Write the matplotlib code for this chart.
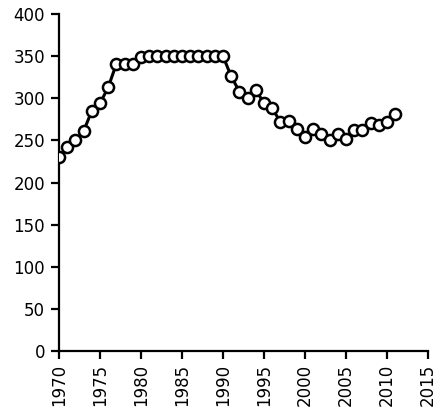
import matplotlib
matplotlib.use("Agg")
import matplotlib.pyplot as plt

years = list(range(1970, 2012))
values = [230, 242, 250, 261, 285, 294, 313, 341, 341, 341,
          349, 350, 350, 350, 350, 350, 350, 350, 350, 350, 350,
          326, 308, 301, 310, 294, 288, 272, 273, 264, 254,
          264, 258, 250, 258, 252, 262, 263, 271, 268, 272, 282]
xticks = list(range(1970, 2016, 5))
yticks = list(range(0, 401, 50))

fig = plt.figure(figsize=(4.4, 4.15), dpi=100)
ax = fig.add_axes([0.134, 0.154, 0.839, 0.812])
ax.plot(years, values, color="black", linewidth=2.2, marker="o",
        markersize=8, markerfacecolor="white", markeredgecolor="black",
        markeredgewidth=1.8, zorder=3)
ax.set_xlim(1970, 2015)
ax.set_ylim(0, 400)
ax.set_xticks(xticks)
ax.set_yticks(yticks)
ax.set_xticklabels([str(x) for x in xticks], rotation=90, fontsize=12)
ax.set_yticklabels([str(y) for y in yticks], fontsize=12)
for s in ["top", "right"]:
    ax.spines[s].set_visible(False)
for s in ["left", "bottom"]:
    ax.spines[s].set_linewidth(1.6)
ax.tick_params(axis="both", direction="out", length=6, width=1.6, pad=3)
ax.tick_params(axis="y", pad=4)
fig.savefig("out.png", dpi=100)
